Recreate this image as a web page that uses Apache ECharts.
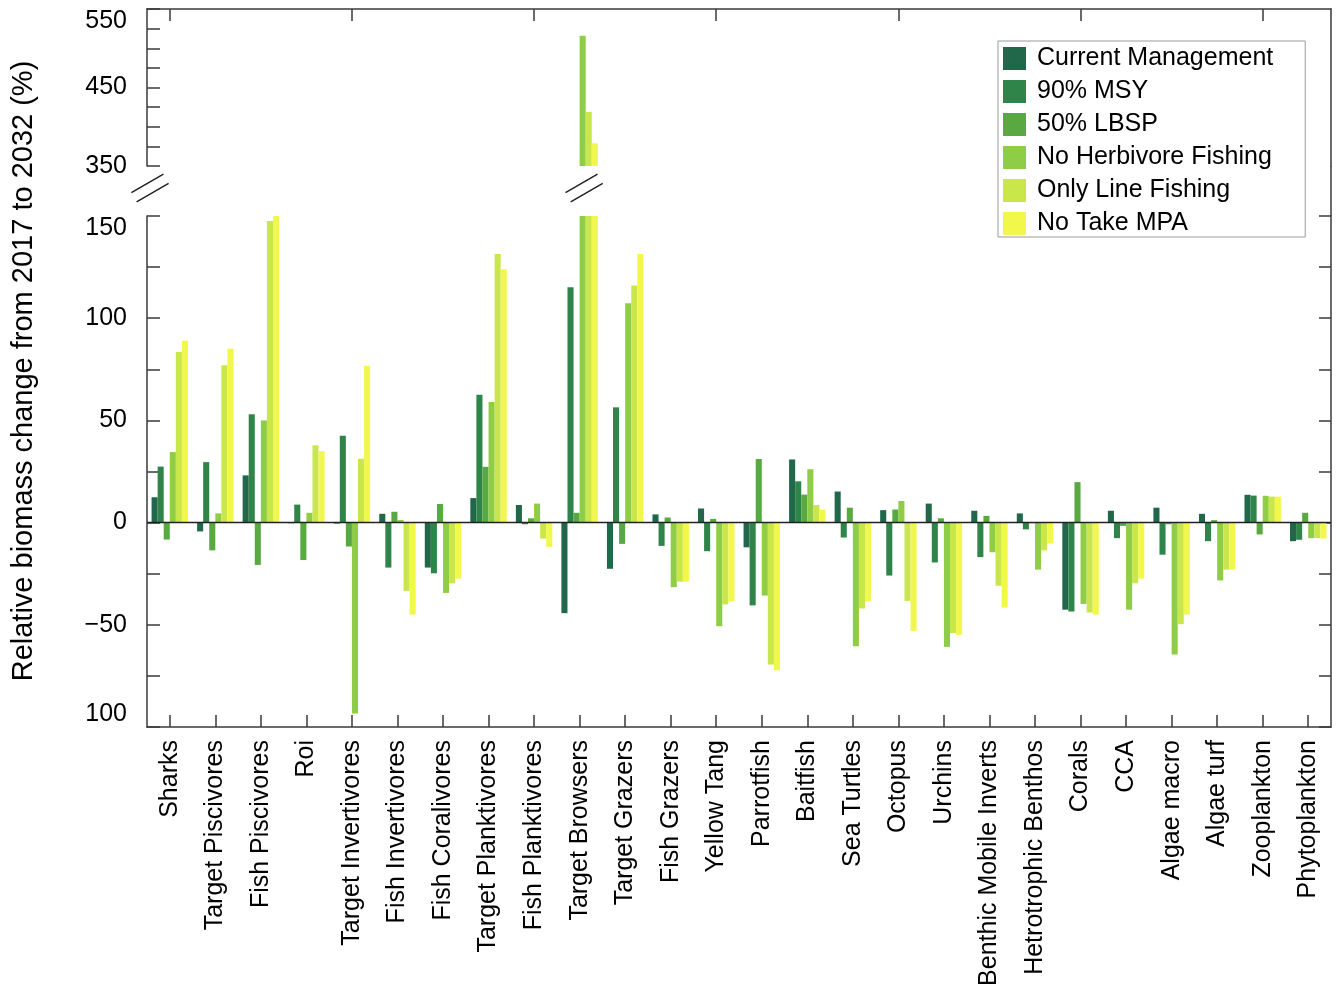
<!DOCTYPE html>
<html>
<head>
<meta charset="utf-8">
<script src="https://cdn.jsdelivr.net/npm/echarts@6/dist/echarts.min.js"></script>
<style>
html,body{margin:0;padding:0;background:#fff;}
#c{width:1338px;height:992px;}
</style>
</head>
<body>
<div id="c"></div>
<script>
// ---------- data ----------
const categories = ['Sharks','Target Piscivores','Fish Piscivores','Roi','Target Invertivores','Fish Invertivores','Fish Coralivores','Target Planktivores','Fish Planktivores','Target Browsers','Target Grazers','Fish Grazers','Yellow Tang','Parrotfish','Baitfish','Sea Turtles','Octopus','Urchins','Benthic Mobile Inverts','Hetrotrophic Benthos','Corals','CCA','Algae macro','Algae turf','Zooplankton','Phytoplankton'];
const seriesNames = ['Current Management','90% MSY','50% LBSP','No Herbivore Fishing','Only Line Fishing','No Take MPA'];

const currentManagement = [12.4, -4.3, 23.1, -0.3, -0.5, 4.3, -22, 12, 8.6, -44.3, -22.6, 4, 6.9, -12.1, 30.9, 15.2, 6.1, 9.3, 5.8, 4.5, -42.6, 5.8, 7.3, 4.3, 13.6, -9.1];
const msy90 = [27.4, 29.6, 53, 8.8, 42.5, -22, -24.8, 62.6, -0.8, 115.2, 56.4, -11.4, -14, -40.5, 20.2, -7.3, -25.9, -19.5, -16.9, -3.3, -43.5, -7.6, -15.7, -9.1, 13.2, -8.4];
const lbsp50 = [-8.3, -13.6, -20.7, -18.3, -11.7, 5.3, 9.1, 27.3, 2.1, 4.8, -10.4, 2.5, 1.8, 31.1, 13.7, 7.3, 6.4, 2.1, 3.3, -0.3, 19.8, -1.6, -0.8, 1.2, -5.8, 4.8];
const noHerbivoreFishing = [34.5, 4.5, 50, 4.8, -93.4, 1.3, -34.4, 59, 9.3, 516, 107.3, -31.6, -50.7, -35.7, 26.1, -60.5, 10.6, -60.8, -14.5, -23, -39.8, -42.6, -64.5, -28.3, 13.1, -7.6];
const onlyLineFishing = [83.5, 77, 147.6, 37.8, 31.2, -33.4, -29.7, 131.4, -7.8, 419, 116, -28.9, -40, -69.4, 8.6, -42, -38.3, -54, -30.9, -13.6, -44, -29.7, -49.7, -23, 12.7, -7.6];
const noTakeMPA = [89, 85, 151, 35, 76.7, -45, -27.4, 124, -11.9, 379, 131.4, -28.9, -38.5, -72.2, 6.4, -38.5, -53, -54.9, -41.6, -10.2, -45, -27.4, -45, -23, 12.7, -7.8];

const upperRange = [350, 550];
const lowerRange = [-100, 150];
const tickStep = 25;

// ---------- styling ----------
const FONT = '"Liberation Sans", Arial, Helvetica, sans-serif';
const colors = ['#21674a', '#2f8549', '#59a943', '#8fcd46', '#c9e64b', '#f2f84b'];
const values = [currentManagement, msy90, lbsp50, noHerbivoreFishing, onlyLineFishing, noTakeMPA];
const lineStyle = { color: '#3a3a3a', width: 1.5 };

const chart = echarts.init(document.getElementById('c'));

function lowerLabel(v) {
  if (v % 50 !== 0) return '';
  if (v === -100) return '100';
  return v < 0 ? '\u2212' + (-v) : String(v);
}

const series = [];
values.forEach((arr, i) => {
  series.push({
    name: seriesNames[i], type: 'bar', xAxisIndex: 0, yAxisIndex: 0,
    data: arr, barGap: '0%', barCategoryGap: '20%', clip: true,
    itemStyle: { color: colors[i] }
  });
});
values.forEach((arr, i) => {
  const s = {
    name: seriesNames[i], type: 'bar', xAxisIndex: 1, yAxisIndex: 2,
    data: arr, barGap: '0%', barCategoryGap: '20%', clip: true,
    itemStyle: { color: colors[i] }
  };
  if (i === 0) {
    s.markLine = {
      silent: true, symbol: 'none', label: { show: false },
      lineStyle: { color: '#222', width: 1.3, type: 'solid' },
      data: [{ yAxis: 0 }]
    };
  }
  series.push(s);
});

const option = {
  animation: false,
  backgroundColor: '#fff',
  color: colors,
  textStyle: { fontFamily: FONT },
  grid: [
    { left: 147, right: 7, top: 9, height: 157 },
    { left: 147, right: 7, top: 216, bottom: 265 }
  ],
  xAxis: [
    {
      gridIndex: 0, type: 'category', data: categories, position: 'top',
      axisLine: { show: true, lineStyle: lineStyle },
      axisTick: { show: true, inside: true, alignWithLabel: true, length: 12, lineStyle: lineStyle },
      axisLabel: { show: false }, splitLine: { show: false }
    },
    {
      gridIndex: 1, type: 'category', data: categories, position: 'bottom',
      axisLine: { show: true, onZero: false, lineStyle: lineStyle },
      axisTick: { show: true, inside: true, alignWithLabel: true, length: 12, lineStyle: lineStyle },
      axisLabel: { rotate: 90, margin: 13, fontSize: 25, color: '#000', fontFamily: FONT, interval: 0 },
      splitLine: { show: false }
    }
  ],
  yAxis: [
    {
      gridIndex: 0, type: 'value', min: upperRange[0], max: upperRange[1], interval: tickStep, position: 'left',
      axisLine: { show: true, lineStyle: lineStyle },
      axisTick: { show: true, inside: true, length: 13, lineStyle: lineStyle },
      axisLabel: { formatter: v => (v % 100 === 50 ? String(v) : ''), margin: 20, fontSize: 25, color: '#000', fontFamily: FONT, verticalAlignMaxLabel: 'top' },
      splitLine: { show: false }
    },
    {
      gridIndex: 0, type: 'value', min: upperRange[0], max: upperRange[1], interval: tickStep, position: 'right',
      axisLine: { show: true, lineStyle: lineStyle },
      axisTick: { show: false }, axisLabel: { show: false }, splitLine: { show: false }
    },
    {
      gridIndex: 1, type: 'value', min: lowerRange[0], max: lowerRange[1], interval: tickStep, position: 'left',
      axisLine: { show: true, lineStyle: lineStyle },
      axisTick: { show: true, inside: true, length: 13, lineStyle: lineStyle },
      axisLabel: { formatter: lowerLabel, margin: 20, fontSize: 25, color: '#000', fontFamily: FONT, verticalAlignMaxLabel: 'top', verticalAlignMinLabel: 'bottom' },
      splitLine: { show: false }
    },
    {
      gridIndex: 1, type: 'value', min: lowerRange[0], max: lowerRange[1], interval: tickStep, position: 'right',
      axisLine: { show: true, lineStyle: lineStyle },
      axisTick: { show: true, inside: true, length: 12, lineStyle: lineStyle },
      axisLabel: { show: false }, splitLine: { show: false }
    }
  ],
  legend: {
    data: seriesNames, orient: 'vertical', left: 998, top: 41,
    icon: 'rect', itemWidth: 23, itemHeight: 23, itemGap: 8,
    padding: [5, 32, 1, 5],
    borderColor: '#9a9a9a', borderWidth: 1, backgroundColor: '#fff',
    textStyle: { fontSize: 25, color: '#000', fontFamily: FONT, padding: [0, 0, 0, 6] }
  },
  series: series
};

chart.setOption(option);

// ---------- decorations: axis break marks, gap line, y title ----------
const upperBottom = chart.convertToPixel({ yAxisIndex: 0 }, upperRange[0]);
const lowerTop = chart.convertToPixel({ yAxisIndex: 2 }, lowerRange[1]);
const midY = (upperBottom + lowerTop) / 2 - 3;
const leftX = 147;
const rightX = 1338 - 7;
const browsersX = chart.convertToPixel({ xAxisIndex: 1 }, 'Target Browsers') + 4.5;

function breakMarks(cx, cy) {
  const hw = 16, hh = 9.2, ox = 2.6, oy = 4.6;
  const st = { stroke: '#222', lineWidth: 1.5 };
  return [
    { type: 'line', shape: { x1: cx - ox - hw, y1: cy - oy + hh, x2: cx - ox + hw, y2: cy - oy - hh }, style: st, z: 100 },
    { type: 'line', shape: { x1: cx + ox - hw, y1: cy + oy + hh, x2: cx + ox + hw, y2: cy + oy - hh }, style: st, z: 100 }
  ];
}

chart.setOption({
  graphic: [
    ...breakMarks(leftX + 3, midY),
    ...breakMarks(browsersX, midY),
    { type: 'line', shape: { x1: rightX, y1: upperBottom, x2: rightX, y2: lowerTop }, style: { stroke: '#3a3a3a', lineWidth: 1.5 }, z: 100 },
    {
      type: 'text', x: 24, y: 371, rotation: Math.PI / 2,
      style: { text: 'Relative biomass change from 2017 to 2032 (%)', fontSize: 29, fontFamily: FONT, fill: '#000', align: 'center', verticalAlign: 'middle' },
      z: 100
    }
  ]
});
</script>
</body>
</html>
